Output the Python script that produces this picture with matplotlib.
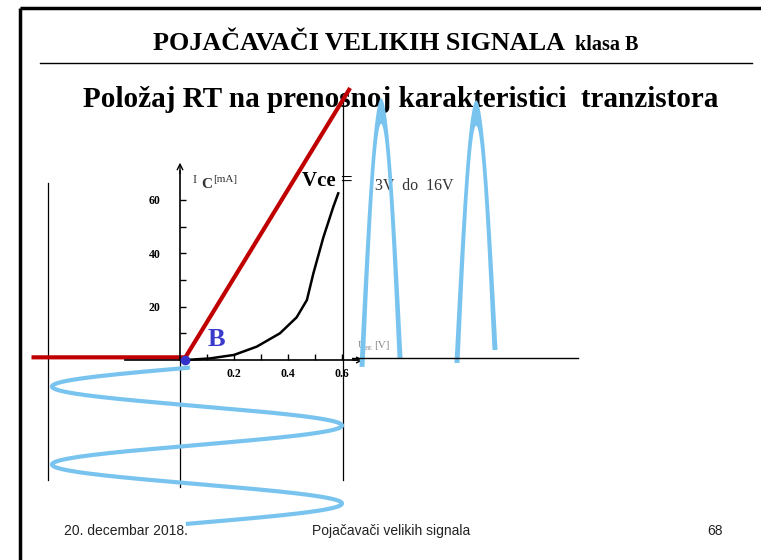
import numpy as np
import matplotlib.pyplot as plt

# ---------------- data ----------------
# transfer characteristic Ic = f(Ube)
ube_v = [0.02, 0.111, 0.2, 0.284, 0.37, 0.432, 0.47, 0.494, 0.531, 0.568, 0.586]
ic_ma = [0.0, 0.6, 1.9, 5.0, 10.0, 16.0, 22.5, 32.5, 46.0, 57.5, 62.5]

# idealised (piecewise linear) characteristic, class B
ideal_v = [-0.55, 0.02, 0.63]
ideal_i = [1.0, 1.0, 102.0]
point_b = (0.02, 0.0)

yticks = [10, 20, 30, 40, 50, 60]
ytick_labels = ['', '20', '', '40', '', '60']
xticks = [0.1, 0.2, 0.3, 0.4, 0.5, 0.6]
xtick_labels = ['', '0.2', '', '0.4', '', '0.6']

# input signal (vertical sine, time runs downwards, in periods)
vin_bias = 0.063
vin_amp = 0.537
vin_t = (0.01, 2.01)

# output current pulses (half waves)
out_start = [0.4, 4.2]
out_width = [1.52, 1.52]
out_peak = [97.5, 94.5]
out_base_l = [-2.6, -1.1]
out_base_r = [0.75, 3.75]

# guide lines (V, mA from, mA to)
guides = [(-0.489, -45.0, 66.4), (0.0, -47.6, 0.0), (0.605, -45.0, 98.6)]

# ---------------- layout ----------------
W, H = 761, 560
X0, Y0 = 180, 360          # pixel position of origin
PX_V, PX_MA = 270.0, 8 / 3.0
BLUE = '#79c4ef'
RED = '#c00000'
SERIF = 'Liberation Serif'
SANS = 'Liberation Sans'

fig = plt.figure(figsize=(W / 100, H / 100), dpi=100)

def px_axes(x0, y0, x1, y1):
    a = fig.add_axes([x0 / W, 1 - y1 / H, (x1 - x0) / W, (y1 - y0) / H])
    a.patch.set_alpha(0)
    return a

# slide canvas
ax = fig.add_axes([0, 0, 1, 1])
ax.set_xlim(0, W)
ax.set_ylim(H, 0)
ax.axis('off')
ax.plot([20, 20], [8, H], color='black', lw=2.5, solid_capstyle='butt')
ax.plot([20, W], [8, 8], color='black', lw=2.5, solid_capstyle='butt')
ax.plot([40, 752], [63, 63], color='black', lw=1)

ax.text(153, 50, 'POJAČAVAČI VELIKIH SIGNALA', fontfamily=SERIF, fontweight='bold',
        fontsize=18.8, ha='left', va='baseline')
ax.text(575, 50, 'klasa B', fontfamily=SERIF, fontweight='bold',
        fontsize=14.5, ha='left', va='baseline')
ax.text(83, 107, 'Položaj RT na prenosnoj karakteristici  tranzistora', fontfamily=SERIF,
        fontweight='bold', fontsize=21, ha='left', va='baseline')

ax.text(64, 531, '20. decembar 2018.', fontfamily=SANS, fontsize=10, va='center', color='#222222')
ax.text(312, 531, 'Pojačavači velikih signala', fontfamily=SANS, fontsize=10, va='center', color='#222222')
ax.text(707, 531, '68', fontfamily=SANS, fontsize=10, va='center', color='#222222')

ax.text(193, 180, 'I', fontfamily=SERIF, fontsize=9, va='center', color='#333333')
ax.text(201, 185, 'C', fontfamily=SERIF, fontsize=11, fontweight='bold', va='center', color='#333333')
ax.text(213, 180, '[mA]', fontfamily=SERIF, fontsize=8, va='center', color='#333333')
ax.text(302, 181, 'Vce =', fontfamily=SERIF, fontsize=15, fontweight='bold', va='center')
ax.text(375, 186, '3V  do  16V', fontfamily=SERIF, fontsize=11.5, va='center', color='#333333')
ax.text(358, 346, 'U', fontfamily=SERIF, fontsize=8, va='center', color='#888888')
ax.text(365, 348, 'BE', fontfamily=SERIF, fontsize=4.5, va='center', color='#888888')
ax.text(374, 346, '[V]', fontfamily=SERIF, fontsize=8, va='center', color='#888888')
ax.text(208, 339, 'B', fontfamily=SERIF, fontsize=19, fontweight='bold', va='center', color='#3a3acc')

# transfer characteristic axes (V, mA)
r = (20, 60, 740, 540)
ax_ch = px_axes(*r)
ax_ch.set_xlim((r[0] - X0) / PX_V, (r[2] - X0) / PX_V)
ax_ch.set_ylim((Y0 - r[3]) / PX_MA, (Y0 - r[1]) / PX_MA)
for s in ['top', 'right']:
    ax_ch.spines[s].set_visible(False)
ax_ch.spines['left'].set_position(('data', 0))
ax_ch.spines['bottom'].set_position(('data', 0))
ax_ch.spines['left'].set_bounds(0, 71)
ax_ch.spines['bottom'].set_bounds(-0.204, 0.66)
ax_ch.spines['left'].set_linewidth(1.2)
ax_ch.spines['bottom'].set_linewidth(1.2)
ax_ch.set_yticks(yticks, ytick_labels)
ax_ch.set_xticks(xticks, xtick_labels)
ax_ch.tick_params(axis='y', direction='in', length=4, width=1, pad=14)
ax_ch.tick_params(axis='x', direction='in', length=4, width=1, pad=6)
for lab in ax_ch.get_xticklabels() + ax_ch.get_yticklabels():
    lab.set_fontfamily(SERIF)
    lab.set_fontweight('bold')
    lab.set_fontsize(8.5)
ax_ch.annotate('', xy=(0, 74), xytext=(0, 70),
               arrowprops=dict(arrowstyle='->', lw=1, color='black', shrinkA=0, shrinkB=0))
ax_ch.annotate('', xy=(0.68, 0), xytext=(0.64, 0),
               arrowprops=dict(arrowstyle='->', lw=1, color='black', shrinkA=0, shrinkB=0))

for gx, g0, g1 in guides:
    ax_ch.plot([gx, gx], [g0, g1], color='black', lw=0.9)

ax_ch.plot(ube_v, ic_ma, color='black', lw=1.8)
ax_ch.plot(ideal_v, ideal_i, color=RED, lw=3, solid_capstyle='butt')
ax_ch.plot(*point_b, 'o', color='#3333cc', ms=6, zorder=5)

# input signal axes (V, periods)
ax_in = px_axes(r[0], 360, r[2], 540)
ax_in.set_xlim(ax_ch.get_xlim())
ax_in.set_ylim((540 - 367) / 78.0, (360 - 367) / 78.0)
ax_in.axis('off')
t = np.linspace(vin_t[0], vin_t[1], 600)
ax_in.plot(vin_bias - vin_amp * np.sin(2 * np.pi * t), t, color=BLUE, lw=3)

# output current axes (time, mA) - brush-like half waves, thicker at the tip
ax_out = px_axes(352, r[1], 602, r[3])
ax_out.set_xlim(0, 10)
ax_out.set_ylim(ax_ch.get_ylim())
ax_out.axis('off')
ax_out.plot([0, 9.04], [0.75, 0.75], color='black', lw=1)
u = np.linspace(0, 1, 200)
d = 0.1
for t0, w, pk, bl, br in zip(out_start, out_width, out_peak, out_base_l, out_base_r):
    base = bl + (br - bl) * u
    xo, yo = t0 - d + (w + 2 * d) * u, base + (pk + 1.5) * np.sin(np.pi * u)
    xi, yi = t0 + d + (w - 2 * d) * u, base + (pk - 8) * np.sin(np.pi * u)
    ax_out.fill(np.r_[xo, xi[::-1]], np.r_[yo, yi[::-1]], color=BLUE, lw=0)

fig.savefig('out.png', dpi=100)
